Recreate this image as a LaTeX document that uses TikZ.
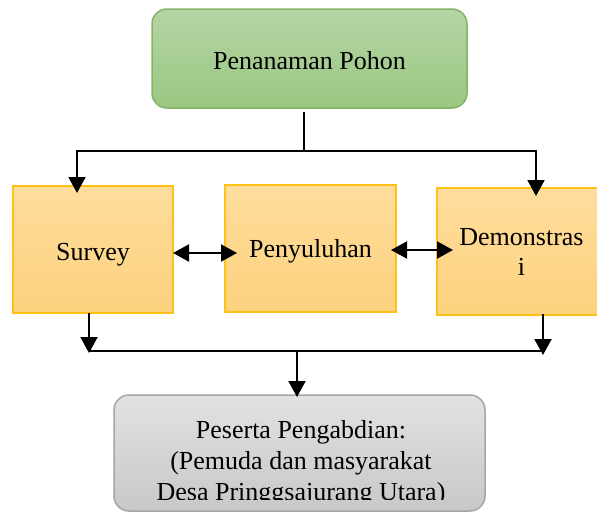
\documentclass[tikz,border=0pt]{standalone}
\usepackage{fontspec}
\setmainfont{Liberation Serif}
\usetikzlibrary{arrows.meta}
\definecolor{greentop}{RGB}{181,213,164}
\definecolor{greenbot}{RGB}{154,199,130}
\definecolor{greenedge}{RGB}{130,179,102}
\definecolor{orangetop}{RGB}{255,221,157}
\definecolor{orangebot}{RGB}{252,210,125}
\definecolor{orangeedge}{RGB}{255,194,20}
\definecolor{graytop}{RGB}{226,226,226}
\definecolor{graybot}{RGB}{200,200,200}
\definecolor{grayedge}{RGB}{165,165,165}
\begin{document}
\begin{tikzpicture}[x=1pt,y=-1pt,
  txt/.style={font=\fontsize{26}{31}\selectfont, align=center},
  topbox/.style={txt, draw=greenedge, line width=1.5pt, top color=greentop, bottom color=greenbot, rounded corners=15pt, minimum width=315pt, minimum height=99pt, inner sep=0pt, text height=21pt, text depth=0pt},
  stepbox/.style={txt, draw=orangeedge, line width=1.5pt, top color=orangetop, bottom color=orangebot, minimum height=127pt, inner sep=0pt},
  endbox/.style={draw=grayedge, line width=1.5pt, top color=graytop, bottom color=graybot, rounded corners=15pt, minimum width=371pt, minimum height=116pt, inner sep=0pt},
  conn/.style={line width=1.5pt},
  arr/.style={line width=2pt, -{Triangle[length=16pt,width=17pt]}},
  darr/.style={line width=2pt, {Triangle[length=16pt,width=17pt]}-{Triangle[length=16pt,width=17pt]}}]
\useasboundingbox (0,0) rectangle (597,512);
\clip (0,0) rectangle (597,512);

% boxes
\node[topbox] (green) at (309.5,58.5) {Penanaman Pohon};
\node[stepbox, minimum width=160pt, text height=21pt, text depth=0pt] (survey) at (93,249.5) {Survey};
\node[stepbox, minimum width=171pt, text height=17pt, text depth=0pt] (peny) at (310.5,248.5) {Penyuluhan};
\node[stepbox, minimum width=169pt] (demo) at (521.5,251.5) {Demonstras\\[-1pt]i};
\node[endbox] (gray) at (299.5,453) {};
\begin{scope}
  \clip (114,395) rectangle (485,499);
  \node[txt, font=\fontsize{26}{31}\selectfont] (graytext) at (301,463) {Peserta Pengabdian:\\(Pemuda dan masyarakat\\Desa Pringgsajurang Utara)};
\end{scope}

% connector coordinates
\coordinate (g0) at (304,112);
\coordinate (j1) at (304,151);
\coordinate (sIn) at (77,193);
\coordinate (dIn) at (536,196);
\coordinate (sp1) at (173,253);
\coordinate (sp2) at (237,253);
\coordinate (pd1) at (391,250);
\coordinate (pd2) at (453,250);
\coordinate (sOut) at (89,313);
\coordinate (sTip) at (89,353);
\coordinate (dOut) at (543,314);
\coordinate (dTip) at (543,355);
\coordinate (hL) at (89,351);
\coordinate (hR) at (543,351);
\coordinate (hM) at (297,351);
\coordinate (gIn) at (297,397);

% connectors
\draw[conn] (g0) -- (j1);
\draw[arr] (j1) -| (sIn);
\draw[arr] (j1) -| (dIn);
\draw[darr] (sp1) -- (sp2);
\draw[darr] (pd1) -- (pd2);
\draw[arr] (sOut) -- (sTip);
\draw[arr] (dOut) -- (dTip);
\draw[conn] (hL) -- (hR);
\draw[arr] (hM) -- (gIn);
\end{tikzpicture}
\end{document}
